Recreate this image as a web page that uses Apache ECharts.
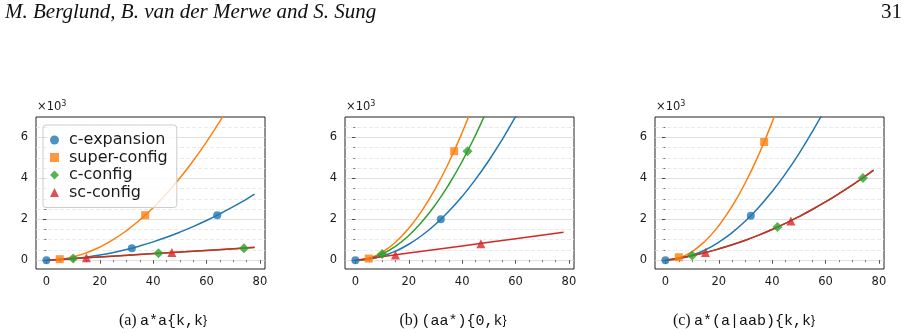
<!DOCTYPE html>
<html><head><meta charset="utf-8">
<script src="https://cdn.jsdelivr.net/npm/echarts@6/dist/echarts.min.js"></script>
<style>html,body{margin:0;padding:0;background:#fff;} #c{width:912px;height:334px;}</style>
</head><body><div id="c"></div>
<script>
// ---------- data ----------
const seriesNames = ['c-expansion', 'super-config', 'c-config', 'sc-config'];
const xMajorTicks = [0, 20, 40, 60, 80];
const xMinorTicks = [5, 10, 15, 25, 30, 35, 45, 50, 55, 65, 70, 75];
const yMajorTicks = [0, 2000, 4000, 6000];
const yMinorTicks = [500, 1000, 1500, 2500, 3000, 3500, 4500, 5000, 5500, 6500];
const captionLabels = ['(a)', '(b)', '(c)'];
const captionCodes = ['a*a{k,k}', '(aa*){0,k}', 'a*(a|aab){k,k}'];
const headerText = 'M. Berglund, B. van der Merwe and S. Sung';
const pageNumber = '31';

// panel (a) markers
const aExpMarks = [[0, 0], [32, 590], [64, 2200]];
const aSupMarks = [[5, 50], [37, 2200]];
const aCcMarks  = [[10, 80], [42, 340], [74, 590]];
const aScMarks  = [[15, 120], [47, 375]];
// panel (a) fitted curves
const aExpCurve = [[0,0],[5,25],[10,75],[15,150],[20,249],[25,374],[30,523],[35,698],[40,897],[45,1121],[50,1370],[55,1644],[60,1943],[65,2267],[70,2615],[75,2989],[78,3225]];
const aSupCurve = [[0,0],[5,40],[10,161],[15,362],[20,643],[25,1004],[30,1446],[35,1969],[40,2571],[45,3254],[50,4018],[55,4861],[60,5785],[65,6790],[70,7874]];
const aCcCurve  = [[0,0],[10,80],[26,210],[42,340],[58,465],[74,590],[78,622]];
const aScCurve  = [[0,0],[15,120],[31,248],[47,375],[63,503],[78,632]];

// panel (b) markers
const bExpMarks = [[0, 0], [32, 2000]];
const bSupMarks = [[5, 80], [37, 5330]];
const bCcMarks  = [[10, 300], [42, 5330]];
const bScMarks  = [[15, 260], [47, 810]];
// panel (b) curves
const bExpCurve = [[0,0],[5,49],[10,195],[15,439],[20,780],[25,1219],[30,1755],[35,2389],[40,3120],[45,3949],[50,4875],[55,5899],[60,7020],[62,7496]];
const bSupCurve = [[0,0],[5,98],[10,390],[15,878],[20,1560],[25,2438],[30,3510],[35,4778],[40,6240],[45,7898]];
const bCcCurve  = [[0,0],[5,76],[10,302],[15,680],[20,1208],[25,1888],[30,2718],[35,3700],[40,4832],[45,6116],[50,7550]];
const bScCurve  = [[0,0],[20,350],[40,700],[60,1050],[78,1370]];

// panel (c) markers
const cExpMarks = [[0, 0], [32, 2170]];
const cSupMarks = [[5, 145], [37, 5780]];
const cCcMarks  = [[10, 225], [42, 1620], [74, 4020]];
const cScMarks  = [[15, 375], [47, 1920]];
// panel (c) curves
const cExpCurve = [[0,0],[5,70],[10,240],[15,510],[20,880],[25,1350],[30,1920],[35,2590],[40,3360],[45,4230],[50,5200],[55,6270],[60,7440]];
const cSupCurve = [[0,0],[5,106],[10,422],[15,950],[20,1688],[25,2638],[30,3798],[35,5170],[40,6752],[45,8546]];
const cCcCurve  = [[0,0],[5,101],[10,227],[15,377],[20,553],[25,753],[30,978],[35,1228],[40,1503],[45,1803],[50,2128],[55,2477],[60,2851],[65,3250],[70,3674],[75,4121],[78,4405]];
const cScCurve  = [[0,0],[5,101],[10,227],[15,377],[20,553],[25,753],[30,978],[35,1228],[40,1503],[45,1803],[50,2128],[55,2477],[60,2851],[65,3250],[70,3674],[75,4121],[78,4405]];

// ---------- styling / layout ----------
const colors = ['#1f77b4', '#ff7f0e', '#2ca02c', '#d62728'];
const symbols = ['circle', 'rect', 'diamond', 'triangle'];
const symbolSizes = [8, 8, 10, 9];
const panels = [
  { left: 36, curves: [aExpCurve, aSupCurve, aCcCurve, aScCurve], marks: [aExpMarks, aSupMarks, aCcMarks, aScMarks], capX: 163 },
  { left: 345, curves: [bExpCurve, bSupCurve, bCcCurve, bScCurve], marks: [bExpMarks, bSupMarks, bCcMarks, bScMarks], capX: 453 },
  { left: 655, curves: [cExpCurve, cSupCurve, cCcCurve, cScCurve], marks: [cExpMarks, cSupMarks, cCcMarks, cScMarks], capX: 744 }
];
const gridTop = 117, gridHeight = 152, gridWidth = 229;
const X_MIN = -3.9, X_MAX = 81.9, Y_MIN = -430, Y_MAX = 7000;
const FONT = '"DejaVu Sans", sans-serif';
const tickColor = '#222';

const grid = [], xAxis = [], yAxis = [], series = [], graphic = [];
panels.forEach((p, k) => {
  grid.push({ left: p.left, top: gridTop, width: gridWidth, height: gridHeight, show: true,
              borderColor: '#222', borderWidth: 1, backgroundColor: 'transparent' });
  xAxis.push({ type: 'value', gridIndex: k, min: X_MIN, max: X_MAX, position: 'bottom',
    axisLine: { show: false },
    axisTick: { show: true, length: 3.5, customValues: xMajorTicks, lineStyle: { color: tickColor, width: 0.8 } },
    axisLabel: { show: true, customValues: xMajorTicks, margin: 7, color: '#1a1a1a', fontSize: 11.5, fontFamily: FONT },
    splitLine: { show: false } });
  xAxis.push({ type: 'value', gridIndex: k, min: X_MIN, max: X_MAX, position: 'bottom', offset: 0,
    axisLine: { show: false },
    axisTick: { show: true, length: 2, customValues: xMinorTicks, lineStyle: { color: tickColor, width: 0.6 } },
    axisLabel: { show: false }, splitLine: { show: false } });
  yAxis.push({ type: 'value', gridIndex: k, min: Y_MIN, max: Y_MAX, position: 'left',
    axisLine: { show: false },
    axisTick: { show: true, length: 3.5, customValues: yMajorTicks, lineStyle: { color: tickColor, width: 0.8 } },
    axisLabel: { show: true, customValues: yMajorTicks, margin: 8, color: '#1a1a1a', fontSize: 11.5, fontFamily: FONT,
                 formatter: v => String(v / 1000) },
    splitLine: { show: true, lineStyle: { color: '#d8d8d8', width: 0.8, type: 'solid' } } });
  yAxis.push({ type: 'value', gridIndex: k, min: Y_MIN, max: Y_MAX, position: 'left', offset: 0,
    axisLine: { show: false },
    axisTick: { show: true, length: 2, customValues: yMinorTicks, lineStyle: { color: tickColor, width: 0.6 } },
    axisLabel: { show: false },
    splitLine: { show: true, lineStyle: { color: '#e4e4e4', width: 0.8, type: [4, 2] } } });

  p.curves.forEach((d, i) => {
    series.push({ type: 'line', name: seriesNames[i] + ' fit ' + k, xAxisIndex: 2 * k, yAxisIndex: 2 * k,
      data: d, smooth: true, symbol: 'none', showSymbol: false, clip: true, silent: true,
      lineStyle: { color: colors[i], width: 1.5 }, z: 2 });
  });
  p.marks.forEach((d, i) => {
    series.push({ type: 'scatter', name: k === 0 ? seriesNames[i] : seriesNames[i] + ' ' + k,
      xAxisIndex: 2 * k, yAxisIndex: 2 * k, data: d, symbol: symbols[i], symbolSize: symbolSizes[i],
      itemStyle: { color: colors[i] }, z: 3 });
  });

  graphic.push({ type: 'text', x: p.left + 1, y: 100,
    style: { text: '{a|×10}{s|3}', rich: { a: { fontSize: 11.5, fontFamily: FONT, fill: '#1a1a1a' },
      s: { fontSize: 8, fontFamily: FONT, fill: '#1a1a1a', verticalAlign: 'top', padding: [0, 0, 6, 0] } } } });
  graphic.push({ type: 'text', x: p.capX, y: 321,
    style: { text: '{a|' + captionLabels[k] + '} {b|' + captionCodes[k] + '}', align: 'center', verticalAlign: 'middle',
      rich: { a: { fontSize: 16, fontFamily: '"Liberation Serif", serif', fill: '#111' },
              b: { fontSize: 15, fontFamily: '"Liberation Mono", monospace', fill: '#111' } } } });
});

graphic.push({ type: 'text', x: 5, y: 2,
  style: { text: headerText, font: 'italic 21px "Liberation Serif", serif', fill: '#111' } });
graphic.push({ type: 'text', x: 902, y: 2,
  style: { text: pageNumber, font: '21px "Liberation Serif", serif', fill: '#111', align: 'right' } });

const option = {
  animation: false,
  backgroundColor: '#fff',
  grid, xAxis, yAxis, series, graphic,
  legend: {
    show: true, orient: 'vertical', left: 43, top: 125,
    data: seriesNames.map((n, i) => ({ name: n, icon: symbols[i] })),
    itemWidth: 9, itemHeight: 9, itemGap: 1.5,
    padding: [7, 9, 7, 7],
    backgroundColor: 'rgba(255,255,255,0.8)', borderColor: '#cccccc', borderWidth: 1, borderRadius: 3,
    textStyle: { fontSize: 16, fontFamily: FONT, color: '#1a1a1a', lineHeight: 16, padding: [0, 0, 0, 5] },
    selectedMode: false
  }
};
const chart = echarts.init(document.getElementById('c'), null, { renderer: 'canvas' });
chart.setOption(option);
</script></body></html>
